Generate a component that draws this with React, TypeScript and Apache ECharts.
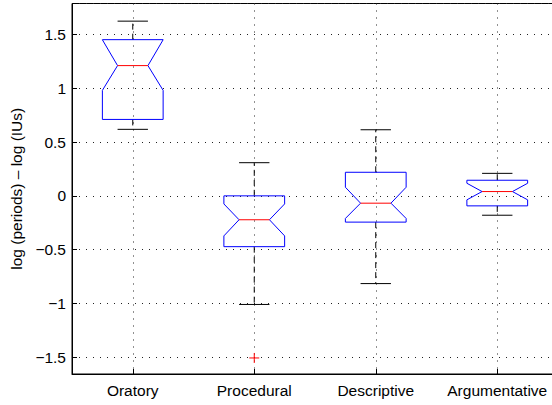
import React, { useEffect, useRef } from 'react';
import * as echarts from 'echarts';

const categories = ['Oratory', 'Procedural', 'Descriptive', 'Argumentative'];
const upperWhisker = [1.623, 0.308, 0.614, 0.209];
const q3 = [1.451, 0.0, 0.219, 0.145];
const notchHigh = [1.45, -0.075, 0.08, 0.117];
const median = [1.21, -0.222, -0.068, 0.04];
const notchLow = [0.98, -0.372, -0.21, -0.037];
const q1 = [0.71, -0.472, -0.244, -0.093];
const lowerWhisker = [0.618, -1.009, -0.815, -0.18];
const outliers: [number, number][] = [[1, -1.506]];
const yMin = -1.655;
const yMax = 1.787;

const FONT = 'Liberation Sans, Arial, Helvetica, sans-serif';

function fmt(v: number): string {
  if (Math.abs(v * 2 - Math.round(v * 2)) > 1e-6) return '';
  const r = Math.round(v * 2) / 2;
  const s = String(Math.abs(r));
  return r < 0 ? '\u2212' + s : s;
}

export default function App() {
  const ref = useRef<HTMLDivElement>(null);
  useEffect(() => {
    if (!ref.current) return;
    const chart = echarts.init(ref.current, undefined, { renderer: 'svg' });
    const boxData = categories.map((_, i) => [
      i,
      upperWhisker[i],
      q3[i],
      notchHigh[i],
      median[i],
      notchLow[i],
      q1[i],
      lowerWhisker[i],
    ]);
    const gridStyle = { color: '#222', width: 1, type: [1, 6] as any };
    chart.setOption({
      animation: false,
      grid: {
        left: 72,
        top: 3.5,
        right: 2,
        bottom: 31,
        show: true,
        borderColor: '#000',
        borderWidth: 1,
        backgroundColor: '#fff',
      },
      xAxis: {
        type: 'category',
        data: categories,
        boundaryGap: true,
        axisLine: { onZero: false, lineStyle: { color: '#000', width: 1 } },
        axisTick: { show: true, inside: true, length: 5, interval: 0, alignWithLabel: true, lineStyle: { color: '#000' } },
        axisLabel: { color: '#000', fontSize: 15.5, fontFamily: FONT, margin: 8, interval: 0 },
        splitLine: { show: true, interval: 0, alignWithLabel: true, lineStyle: gridStyle },
      },
      yAxis: {
        type: 'value',
        min: yMin,
        max: yMax,
        splitNumber: 6,
        name: 'log (periods) \u2013 log (IUs)',
        nameLocation: 'middle',
        nameGap: 44,
        nameTextStyle: { color: '#000', fontSize: 15.5, fontFamily: FONT },
        axisLine: { show: true, onZero: false, lineStyle: { color: '#000', width: 1 } },
        axisTick: { show: true, inside: true, length: 5, lineStyle: { color: '#000' } },
        axisLabel: {
          color: '#000',
          fontSize: 15.5,
          fontFamily: FONT,
          margin: 6,
          formatter: (v: number) => fmt(v),
          showMinLabel: false,
          showMaxLabel: false,
        },
        splitLine: { show: true, lineStyle: gridStyle },
      },
      series: [
        {
          type: 'custom',
          data: boxData,
          clip: false,
          renderItem: (params: any, api: any) => {
            const idx = api.value(0);
            const band = api.size([1, 0])[0];
            const xc = api.coord([idx, 0])[0];
            const y = (v: number) => api.coord([idx, v])[1];
            const half = band * 0.25;
            const nHalf = band * 0.125;
            const xl = xc - half;
            const xr = xc + half;
            const uw = api.value(1), b3 = api.value(2), nh = api.value(3), md = api.value(4),
              nl = api.value(5), b1 = api.value(6), lw = api.value(7);
            const nhc = Math.min(nh, b3);
            const nlc = Math.max(nl, b1);
            const blue = '#0000ff';
            return {
              type: 'group',
              children: [
                {
                  type: 'line',
                  shape: { x1: xc, y1: y(b3), x2: xc, y2: y(uw) },
                  style: { stroke: '#000', lineWidth: 1, lineDash: [6, 4] },
                },
                {
                  type: 'line',
                  shape: { x1: xc, y1: y(b1), x2: xc, y2: y(lw) },
                  style: { stroke: '#000', lineWidth: 1, lineDash: [6, 4] },
                },
                {
                  type: 'line',
                  shape: { x1: xc - nHalf, y1: y(uw), x2: xc + nHalf, y2: y(uw) },
                  style: { stroke: '#000', lineWidth: 1 },
                },
                {
                  type: 'line',
                  shape: { x1: xc - nHalf, y1: y(lw), x2: xc + nHalf, y2: y(lw) },
                  style: { stroke: '#000', lineWidth: 1 },
                },
                {
                  type: 'polygon',
                  shape: {
                    points: [
                      [xl, y(b3)],
                      [xr, y(b3)],
                      [xr, y(nhc)],
                      [xc + nHalf, y(md)],
                      [xr, y(nlc)],
                      [xr, y(b1)],
                      [xl, y(b1)],
                      [xl, y(nlc)],
                      [xc - nHalf, y(md)],
                      [xl, y(nhc)],
                    ],
                  },
                  style: { stroke: blue, fill: 'none', lineWidth: 1 },
                },
                {
                  type: 'line',
                  shape: { x1: xc - nHalf, y1: y(md), x2: xc + nHalf, y2: y(md) },
                  style: { stroke: '#ff0000', lineWidth: 1 },
                },
              ],
            };
          },
        },
        {
          type: 'custom',
          data: outliers,
          clip: false,
          renderItem: (params: any, api: any) => {
            const p = api.coord([api.value(0), api.value(1)]);
            const s = 5;
            return {
              type: 'group',
              children: [
                { type: 'line', shape: { x1: p[0] - s, y1: p[1], x2: p[0] + s, y2: p[1] }, style: { stroke: '#ff0000', lineWidth: 1 } },
                { type: 'line', shape: { x1: p[0], y1: p[1] - s, x2: p[0], y2: p[1] + s }, style: { stroke: '#ff0000', lineWidth: 1 } },
              ],
            };
          },
        },
      ],
    });
    return () => chart.dispose();
  }, []);
  return (
    <div
      ref={ref}
      style={{ position: 'fixed', left: 0, top: 0, width: 560, height: 405, background: '#fff' }}
    />
  );
}
